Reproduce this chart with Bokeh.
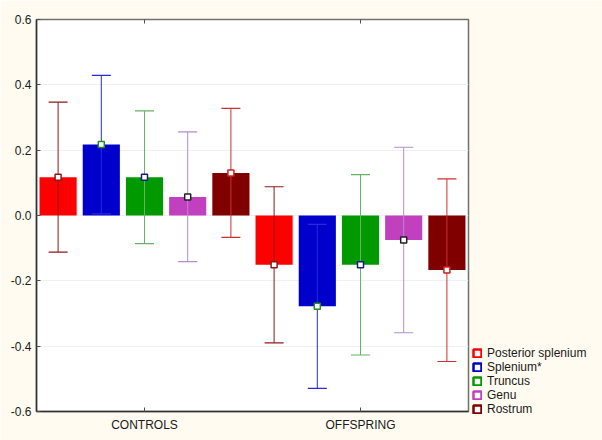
from bokeh.plotting import figure
from bokeh.models import (FactorRange, Range1d, FixedTicker, PrintfTickFormatter, CustomJSTickFormatter,
                          CategoricalAxis, Legend, LegendItem, ColumnDataSource)
from bokeh.transform import dodge
from bokeh.embed import file_html
from bokeh.resources import INLINE

groups = ["CONTROLS", "OFFSPRING"]
regions = ["Posterior splenium", "Splenium*", "Truncus", "Genu", "Rostrum"]

# means per region: [CONTROLS, OFFSPRING]
posterior_splenium = [0.117, -0.151]
splenium = [0.217, -0.278]
truncus = [0.117, -0.151]
genu = [0.057, -0.075]
rostrum = [0.130, -0.167]

posterior_splenium_upper = [0.347, 0.088]
splenium_upper = [0.429, -0.027]
truncus_upper = [0.320, 0.125]
genu_upper = [0.256, 0.209]
rostrum_upper = [0.328, 0.112]

posterior_splenium_lower = [-0.112, -0.390]
splenium_lower = [0.005, -0.529]
truncus_lower = [-0.086, -0.427]
genu_lower = [-0.141, -0.359]
rostrum_lower = [-0.067, -0.447]

y_ticks = [-0.6, -0.4, -0.2, 0.0, 0.2, 0.4, 0.6]

means = [posterior_splenium, splenium, truncus, genu, rostrum]
uppers = [posterior_splenium_upper, splenium_upper, truncus_upper, genu_upper, rostrum_upper]
lowers = [posterior_splenium_lower, splenium_lower, truncus_lower, genu_lower, rostrum_lower]

bar_colors = ["#FF0000", "#0000CC", "#009900", "#C040C0", "#800000"]
err_colors = ["#8B1A1A", "#2828E0", "#66B266", "#B48CC8", "#C83232"]
marker_lines = ["#8B1A1A", "#228B22", "#1A1A80", "#202020", "#CC2020"]

FONT = "Liberation Sans"

p = figure(x_range=FactorRange(factors=groups, range_padding=0),
           y_range=Range1d(-0.6, 0.6),
           frame_width=432, frame_height=392,
           min_border_left=36, min_border_right=0,
           min_border_top=19, min_border_bottom=29,
           output_backend="svg", toolbar_location=None,
           background_fill_color="white", border_fill_color="#FFFBF0")

p.outline_line_color = "#707070"
p.outline_line_width = 1.5
p.xgrid.grid_line_color = None
p.ygrid.grid_line_color = "#F0F0F0"
p.ygrid.ticker = FixedTicker(ticks=y_ticks)

p.yaxis.ticker = FixedTicker(ticks=y_ticks)
p.yaxis.formatter = PrintfTickFormatter(format="%.1f")
for ax in (p.xaxis[0], p.yaxis[0]):
    ax.major_label_text_font = FONT
    ax.major_label_text_font_size = "12px"
    ax.major_label_text_color = "#1A1A1A"
    ax.axis_line_color = "#303030"
    ax.axis_line_width = 1.5
    ax.major_tick_in = 4
    ax.major_tick_out = 0
    ax.minor_tick_in = 0
    ax.minor_tick_out = 0
    ax.major_tick_line_color = "#505050"
p.yaxis.major_label_standoff = 5
p.xaxis.major_label_standoff = 6

top_axis = CategoricalAxis(formatter=CustomJSTickFormatter(code="return ''"),
                           major_tick_in=4, major_tick_out=0,
                           axis_line_color=None, major_tick_line_color="#505050",
                           major_label_standoff=0)
p.add_layout(top_axis, "above")

offsets = [-0.4, -0.2, 0.0, 0.2, 0.4]
bar_w = 0.172
cap = 0.044
items = []
for i in range(5):
    src = ColumnDataSource(dict(group=groups, mean=means[i], up=uppers[i], lo=lowers[i]))
    off = offsets[i]
    p.vbar(x=dodge("group", off, range=p.x_range), top="mean", bottom=0, width=bar_w,
           source=src, fill_color=bar_colors[i], line_color=None)
for i in range(5):
    src = ColumnDataSource(dict(group=groups, mean=means[i], up=uppers[i], lo=lowers[i]))
    off = offsets[i]
    p.segment(x0=dodge("group", off, range=p.x_range), x1=dodge("group", off, range=p.x_range),
              y0="lo", y1="up", source=src, line_color=err_colors[i], line_width=1)
    p.segment(x0=dodge("group", off - cap, range=p.x_range), x1=dodge("group", off + cap, range=p.x_range),
              y0="up", y1="up", source=src, line_color=err_colors[i], line_width=1.2)
    p.segment(x0=dodge("group", off - cap, range=p.x_range), x1=dodge("group", off + cap, range=p.x_range),
              y0="lo", y1="lo", source=src, line_color=err_colors[i], line_width=1.2)
    p.scatter(x=dodge("group", off, range=p.x_range), y="mean", source=src, marker="square",
              size=6, fill_color="white", line_color=marker_lines[i], line_width=1.5)
    # legend-only swatch, placed outside the visible y range
    dummy = p.quad(left=["CONTROLS"], right=["CONTROLS"], top=[3.0], bottom=[2.9],
                   fill_color="white", line_color=bar_colors[i], line_width=2.5)
    items.append(LegendItem(label=regions[i], renderers=[dummy]))

legend = Legend(items=items, location=(4, -5), orientation="vertical",
                glyph_width=10, glyph_height=10, label_height=14, spacing=0,
                padding=0, margin=0, label_standoff=5,
                label_text_font=FONT, label_text_font_size="12px", label_text_color="#1A1A1A",
                border_line_color=None, background_fill_alpha=0)
p.add_layout(legend, "right")

open("out.html", "w").write(file_html(p, INLINE))
